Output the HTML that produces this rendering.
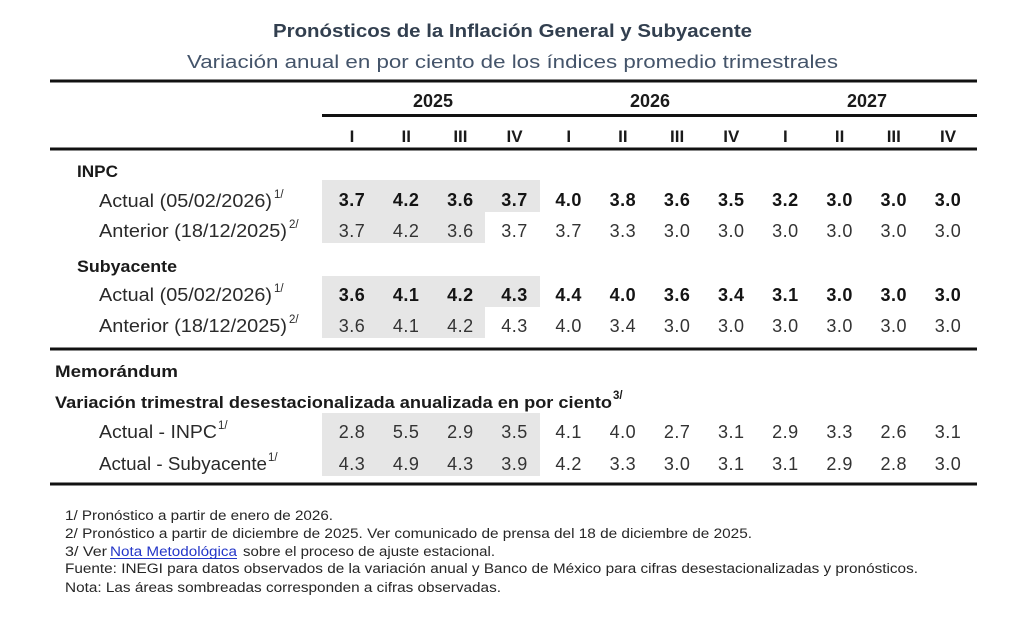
<!DOCTYPE html>
<html>
<head>
<meta charset="utf-8">
<style>
html,body{margin:0;padding:0;background:#ffffff;}
svg{display:block;}
text{font-family:"Liberation Sans",Arial,sans-serif;}
</style>
</head>
<body>
<svg width="1024" height="618" viewBox="0 0 1024 618" xmlns="http://www.w3.org/2000/svg">
<rect x="0" y="0" width="1024" height="618" fill="#ffffff"/>

<!-- Titles -->
<text x="273" y="37" font-size="18.5" font-weight="bold" fill="#323f4f" textLength="479" lengthAdjust="spacingAndGlyphs">Pronósticos de la Inflación General y Subyacente</text>
<text x="187" y="68" font-size="18.5" fill="#44546a" textLength="651" lengthAdjust="spacingAndGlyphs">Variación anual en por ciento de los índices promedio trimestrales</text>

<!-- Shading -->
<g fill="#e6e6e6">
<rect x="322" y="180" width="218" height="32"/>
<rect x="322" y="212" width="163" height="31"/>
<rect x="322" y="276" width="218" height="31"/>
<rect x="322" y="307" width="163" height="31"/>
<rect x="322" y="413" width="218" height="63"/>
</g>

<!-- Rules -->
<g fill="#111111">
<rect x="50" y="79.5" width="927" height="3"/>
<rect x="322" y="114" width="655" height="3"/>
<rect x="50" y="147.5" width="927" height="3"/>
<rect x="50" y="347.5" width="927" height="3"/>
<rect x="50" y="482.5" width="927" height="3"/>
</g>

<!-- Years -->
<g font-size="18" font-weight="bold" fill="#1a1a1a" text-anchor="middle">
<text x="433" y="107">2025</text>
<text x="650" y="107">2026</text>
<text x="867" y="107">2027</text>
</g>

<!-- Quarters -->
<g font-size="17" font-weight="bold" fill="#1a1a1a" text-anchor="middle">
<text x="352" y="142">I</text><text x="406.2" y="142">II</text><text x="460.4" y="142">III</text><text x="514.5" y="142">IV</text>
<text x="568.7" y="142">I</text><text x="622.9" y="142">II</text><text x="677.1" y="142">III</text><text x="731.3" y="142">IV</text>
<text x="785.4" y="142">I</text><text x="839.6" y="142">II</text><text x="893.8" y="142">III</text><text x="948" y="142">IV</text>
</g>

<!-- Left labels -->
<g fill="#1a1a1a">
<text x="77" y="177" font-size="17" font-weight="bold" textLength="41" lengthAdjust="spacingAndGlyphs">INPC</text>
<text x="99" y="207" font-size="18" fill="#2a2a2a" textLength="173" lengthAdjust="spacingAndGlyphs">Actual (05/02/2026)</text>
<text x="274" y="198" font-size="11.5" fill="#2a2a2a">1/</text>
<text x="99" y="237" font-size="18" fill="#2a2a2a" textLength="188" lengthAdjust="spacingAndGlyphs">Anterior (18/12/2025)</text>
<text x="289" y="228" font-size="11.5" fill="#2a2a2a">2/</text>

<text x="77" y="272" font-size="17" font-weight="bold" textLength="100" lengthAdjust="spacingAndGlyphs">Subyacente</text>
<text x="99" y="301" font-size="18" fill="#2a2a2a" textLength="173" lengthAdjust="spacingAndGlyphs">Actual (05/02/2026)</text>
<text x="274" y="292" font-size="11.5" fill="#2a2a2a">1/</text>
<text x="99" y="332" font-size="18" fill="#2a2a2a" textLength="188" lengthAdjust="spacingAndGlyphs">Anterior (18/12/2025)</text>
<text x="289" y="323" font-size="11.5" fill="#2a2a2a">2/</text>

<text x="55" y="377" font-size="17" font-weight="bold" textLength="123" lengthAdjust="spacingAndGlyphs">Memorándum</text>
<text x="55" y="408" font-size="17" font-weight="bold" textLength="557" lengthAdjust="spacingAndGlyphs">Variación trimestral desestacionalizada anualizada en por ciento</text>
<text x="613" y="399" font-size="11.5" font-weight="bold">3/</text>

<text x="99" y="438" font-size="18" fill="#2a2a2a" textLength="118" lengthAdjust="spacingAndGlyphs">Actual - INPC</text>
<text x="218" y="429" font-size="11.5" fill="#2a2a2a">1/</text>
<text x="99" y="470" font-size="18" fill="#2a2a2a" textLength="168" lengthAdjust="spacingAndGlyphs">Actual - Subyacente</text>
<text x="268" y="461" font-size="11.5" fill="#2a2a2a">1/</text>
</g>

<!-- Data -->
<g font-size="18" text-anchor="middle" letter-spacing="0.5">
<g font-weight="bold" fill="#141414">
<text x="352" y="206">3.7</text><text x="406.2" y="206">4.2</text><text x="460.4" y="206">3.6</text><text x="514.5" y="206">3.7</text>
<text x="568.7" y="206">4.0</text><text x="622.9" y="206">3.8</text><text x="677.1" y="206">3.6</text><text x="731.3" y="206">3.5</text>
<text x="785.4" y="206">3.2</text><text x="839.6" y="206">3.0</text><text x="893.8" y="206">3.0</text><text x="948" y="206">3.0</text>
</g>
<g fill="#333333">
<text x="352" y="237">3.7</text><text x="406.2" y="237">4.2</text><text x="460.4" y="237">3.6</text><text x="514.5" y="237">3.7</text>
<text x="568.7" y="237">3.7</text><text x="622.9" y="237">3.3</text><text x="677.1" y="237">3.0</text><text x="731.3" y="237">3.0</text>
<text x="785.4" y="237">3.0</text><text x="839.6" y="237">3.0</text><text x="893.8" y="237">3.0</text><text x="948" y="237">3.0</text>
</g>
<g font-weight="bold" fill="#141414">
<text x="352" y="301">3.6</text><text x="406.2" y="301">4.1</text><text x="460.4" y="301">4.2</text><text x="514.5" y="301">4.3</text>
<text x="568.7" y="301">4.4</text><text x="622.9" y="301">4.0</text><text x="677.1" y="301">3.6</text><text x="731.3" y="301">3.4</text>
<text x="785.4" y="301">3.1</text><text x="839.6" y="301">3.0</text><text x="893.8" y="301">3.0</text><text x="948" y="301">3.0</text>
</g>
<g fill="#333333">
<text x="352" y="332">3.6</text><text x="406.2" y="332">4.1</text><text x="460.4" y="332">4.2</text><text x="514.5" y="332">4.3</text>
<text x="568.7" y="332">4.0</text><text x="622.9" y="332">3.4</text><text x="677.1" y="332">3.0</text><text x="731.3" y="332">3.0</text>
<text x="785.4" y="332">3.0</text><text x="839.6" y="332">3.0</text><text x="893.8" y="332">3.0</text><text x="948" y="332">3.0</text>
</g>
<g fill="#333333">
<text x="352" y="438">2.8</text><text x="406.2" y="438">5.5</text><text x="460.4" y="438">2.9</text><text x="514.5" y="438">3.5</text>
<text x="568.7" y="438">4.1</text><text x="622.9" y="438">4.0</text><text x="677.1" y="438">2.7</text><text x="731.3" y="438">3.1</text>
<text x="785.4" y="438">2.9</text><text x="839.6" y="438">3.3</text><text x="893.8" y="438">2.6</text><text x="948" y="438">3.1</text>
</g>
<g fill="#333333">
<text x="352" y="470">4.3</text><text x="406.2" y="470">4.9</text><text x="460.4" y="470">4.3</text><text x="514.5" y="470">3.9</text>
<text x="568.7" y="470">4.2</text><text x="622.9" y="470">3.3</text><text x="677.1" y="470">3.0</text><text x="731.3" y="470">3.1</text>
<text x="785.4" y="470">3.1</text><text x="839.6" y="470">2.9</text><text x="893.8" y="470">2.8</text><text x="948" y="470">3.0</text>
</g>
</g>

<!-- Footnotes -->
<g font-size="13.5" fill="#262626">
<text x="65" y="520" textLength="268" lengthAdjust="spacingAndGlyphs">1/ Pronóstico a partir de enero de 2026.</text>
<text x="65" y="538" textLength="687" lengthAdjust="spacingAndGlyphs">2/ Pronóstico a partir de diciembre de 2025. Ver comunicado de prensa del 18 de diciembre de 2025.</text>
<text x="65" y="556" textLength="42" lengthAdjust="spacingAndGlyphs">3/ Ver</text>
<text x="110" y="556" fill="#2436c8" textLength="127" lengthAdjust="spacingAndGlyphs">Nota Metodológica</text>
<rect x="110" y="558" width="127" height="1" fill="#2436c8"/>
<text x="243" y="556" textLength="252" lengthAdjust="spacingAndGlyphs">sobre el proceso de ajuste estacional.</text>
<text x="65" y="573" textLength="853" lengthAdjust="spacingAndGlyphs">Fuente: INEGI para datos observados de la variación anual y Banco de México para cifras desestacionalizadas y pronósticos.</text>
<text x="65" y="592" textLength="436" lengthAdjust="spacingAndGlyphs">Nota: Las áreas sombreadas corresponden a cifras observadas.</text>
</g>
</svg>
</body>
</html>
